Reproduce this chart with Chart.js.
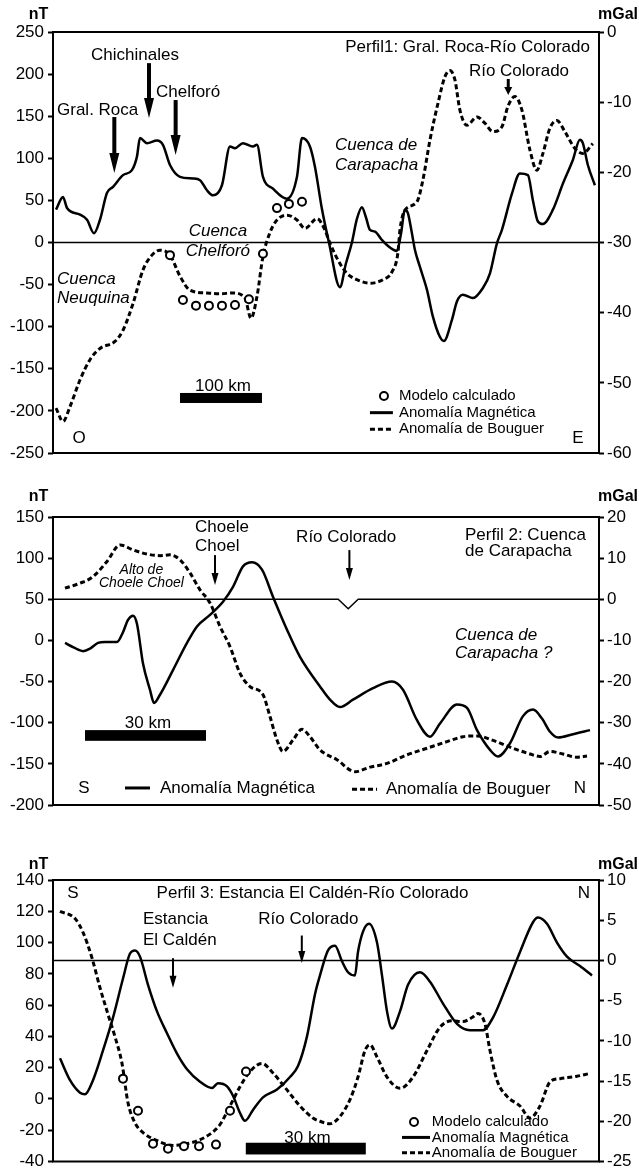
<!DOCTYPE html>
<html>
<head>
<meta charset="utf-8">
<script src="https://cdn.jsdelivr.net/npm/chart.js@4.4.1/dist/chart.umd.min.js"></script>
<style>
  html, body { margin: 0; padding: 0; background: #fff; }
  #wrap { position: relative; width: 639px; height: 1174px; overflow: hidden; }
  canvas { position: absolute; left: 0; }
</style>
</head>
<body>
<div id="wrap">
  <canvas id="c1" width="639" height="480" style="top:0px;width:639px;height:480px"></canvas>
  <canvas id="c2" width="639" height="350" style="top:480px;width:639px;height:350px"></canvas>
  <canvas id="c3" width="639" height="344" style="top:830px;width:639px;height:344px"></canvas>
</div>
<script>
// ---- Perfil 1 (distance in km, nT / mGal) ----
const p1MagKm = [3.7, 12.2, 17.1, 32.9, 41.5, 50, 57.3, 65.9, 73.2, 85.4, 96.3, 102.4, 106.1, 114.6, 126.8, 134.1, 142.7, 154.9, 170.7, 179.3, 187.8, 195.1, 206.1, 215.9, 222, 231.7, 243.9, 248.8, 256.1, 268.3, 285.4, 297.6, 303.7, 313.4, 319.5, 328, 336.6, 350, 357.3, 364.6, 370.7, 376.8, 381.7, 386.6, 392.7, 401.2, 407.3, 419.5, 424.4, 429.3, 432.9, 437.8, 441.5, 447.6, 456.1, 463.4, 471.9, 476.8, 486.6, 492.7, 500, 512.2, 524.4, 532.9, 541.5, 547.6, 559.8, 569.5, 579.3, 585.4, 591.5, 597.6, 609.8, 622, 634.1, 642.7, 646.3, 652.4, 661];
const p1MagNt = [39, 54, 41, 33, 27, 11, 27, 59, 66, 80, 86, 102, 124, 118, 121, 116, 92, 78, 76, 74, 62, 56, 68, 114, 112, 118, 114, 116, 78, 64, 52, 78, 124, 114, 90, 40, 0, -53, -25, 0, 28, 42, 30, 15, 13, 3, -3, -10, 10, 39, 35, 11, -9, -29, -56, -88, -112, -117, -92, -70, -62, -66, -54, -37, -1, 15, 58, 82, 80, 50, 25, 22, 39, 70, 98, 122, 118, 92, 68];
const p1BouKm = [3.7, 12.2, 20.7, 32.9, 45.1, 57.3, 75.6, 85.4, 97.6, 109.8, 120.7, 130.5, 142.7, 154.9, 167.1, 187.8, 203.7, 219.5, 234.1, 241.5, 248.8, 256.1, 264.6, 273.2, 285.4, 297.6, 307.3, 322, 331.7, 337.8, 350, 358.5, 370.7, 386.6, 402.4, 413.4, 420.7, 423.2, 429.3, 443.9, 451.2, 459.8, 469.5, 478, 484.1, 490.2, 496.3, 504.9, 517.1, 526.8, 536.6, 547.6, 554.9, 563.4, 571.9, 581.7, 590.2, 597.6, 606.1, 614.6, 624.4, 636.6, 646.3, 658.5];
const p1BouMgal = [-53.6, -55.5, -53.4, -49.6, -46.7, -45.1, -44.1, -42.5, -38.7, -33.9, -31.8, -31.1, -31.8, -34.8, -36.8, -37.2, -37.3, -37.2, -37.9, -40.8, -37.7, -32, -28.6, -26.8, -26.1, -26.8, -28, -26.6, -28.2, -30.1, -33, -34.4, -35.3, -35.8, -35.3, -34.2, -31.5, -28.2, -25.4, -24.2, -21.1, -15.4, -10.2, -6.4, -5.5, -6.8, -11.1, -13.3, -12.1, -13, -14.2, -13.5, -10.6, -9.2, -11.1, -16.8, -19.7, -17.3, -13.7, -12.6, -14.2, -16.6, -17.3, -15.9];
const p1ModKm = [142.7, 158.5, 174.4, 190.2, 206.1, 222, 239, 256.1, 273.2, 287.8, 303.7];
const p1ModMgal = [-31.8, -38.2, -39, -39, -39, -38.9, -38.1, -31.6, -25.1, -24.5, -24.2];
const p1TicksNt = [250, 200, 150, 100, 50, 0, -50, -100, -150, -200, -250];
const p1TicksMgal = [0, -10, -20, -30, -40, -50, -60];

// ---- Perfil 2 ----
const p2MagKm = [3, 5, 7.5, 9.25, 11.25, 13, 16, 17.5, 18.75, 20, 21, 22.5, 24.25, 25.25, 26.75, 30, 33.5, 36, 39.25, 42.5, 45, 47.5, 49.75, 52.25, 55, 58.5, 61.75, 66.75, 69.25, 71.75, 75, 80, 84.75, 87.5, 91, 94.25, 96.75, 101, 103.5, 106, 109.25, 111.25, 114.25, 117.5, 120, 122.25, 124.25, 126.25, 130, 134.25];
const p2MagNt = [-3, -8, -13, -10, -3, -2, -2, 10, 25, 30, 20, -28, -60, -76, -66, -36, -3, 17, 31, 47, 65, 90, 95, 86, 53, 13, -20, -56, -72, -81, -72, -58, -50, -60, -97, -117, -101, -78, -82, -109, -133, -141, -125, -92, -84, -95, -111, -118, -114, -109];
const p2BouKm = [3, 6.75, 10, 13.5, 16.75, 20, 23.5, 26.75, 29.25, 31.75, 34.25, 36.75, 39.25, 41.75, 44.25, 46.75, 49.25, 52.5, 54.25, 56, 57.5, 60, 62.25, 64.25, 66.75, 71, 75.5, 79.25, 83.5, 88.5, 93.5, 98.5, 102.5, 106, 110, 115, 119.25, 121.75, 124.25, 127.5, 131, 133.5];
const p2BouMgal = [2.7, 3.9, 5.5, 9.2, 13.2, 12, 11, 10.6, 10.8, 9.6, 6.4, 2.3, -0.9, -6.6, -11.5, -18, -21.2, -23.2, -28.5, -34.2, -37, -34.2, -31.6, -33.4, -36.6, -39, -41.9, -40.8, -39.9, -37.8, -36.2, -34.6, -33.4, -33.2, -34.3, -36.2, -37.6, -38.2, -37, -37.6, -38.4, -38.1];
const p2ZeroKm = [0, 71.3, 73.8, 76.3, 136.5];
const p2ZeroMgal = [0, 0, -2.3, 0, 0];
const p2TicksNt = [150, 100, 50, 0, -50, -100, -150, -200];
const p2TicksMgal = [20, 10, 0, -10, -20, -30, -40, -50];

// ---- Perfil 3 ----
const p3MagKm = [1.75, 4.25, 6.75, 8, 10, 12.5, 15, 17.5, 19.25, 20.5, 21.75, 23.75, 26, 28.5, 31, 33.5, 36.75, 39.75, 41.25, 43.5, 45, 46.75, 48, 50, 52.5, 56, 59.25, 61.25, 63.5, 65.5, 66.75, 68.75, 70.5, 72.25, 73.75, 75.5, 76.25, 77.5, 79, 81, 82.25, 83.5, 84.75, 86.75, 88.75, 91.75, 94.25, 97.5, 101, 104.25, 107.5, 110, 113.5, 116.75, 120, 121.25, 123.5, 126, 128.5, 131.75, 134.75];
const p3MagNt = [26, 12, 4, 3, 12, 31, 52, 77, 93, 95, 91, 73, 56, 42, 29, 19, 11, 7, 10, 8, 2, -9, -14, -7, 1, 6, 14, 21, 40, 67, 79, 95, 98, 88, 81, 79, 94, 107, 112, 100, 79, 56, 45, 56, 73, 81, 75, 61, 48, 44, 44, 52, 73, 94, 113, 116, 112, 100, 91, 85, 79];
const p3BouKm = [1.75, 5.5, 7.5, 9.75, 11.75, 13.75, 15.5, 17.25, 18.75, 20.5, 22.5, 26, 30, 35, 39.25, 41.75, 44.25, 46.75, 49.25, 52.25, 55, 58.5, 61.75, 65, 66.75, 69.25, 71.75, 74.25, 76.25, 78, 79.25, 81, 83.5, 86.75, 90, 93.5, 96.75, 99.75, 102.5, 104.75, 106.25, 108, 109.25, 111, 113.5, 116.75, 119.25, 121.75, 124.25, 126.75, 131, 133.75];
const p3BouMgal = [6.1, 5.2, 3.5, 0.3, -3.4, -6.7, -9.5, -12.8, -17.7, -20.2, -21.4, -22.4, -23, -22.6, -21.6, -20.4, -18.1, -15.7, -13.8, -12.8, -14, -16.1, -18.1, -19.6, -20, -20.3, -19.4, -17.3, -14.5, -11.2, -10.5, -12, -14.5, -15.9, -14.5, -11.2, -8.3, -7.5, -7.6, -7.1, -6.6, -7.9, -11.2, -14.9, -16.9, -18.1, -19.6, -18.1, -15.1, -14.7, -14.4, -14.1];
const p3ModKm = [17.5, 21.25, 25, 28.75, 32.75, 36.5, 40.75, 44.25, 48.25];
const p3ModMgal = [-14.7, -18.7, -22.8, -23.4, -23.1, -23.1, -22.9, -18.7, -13.8];
const p3TicksNt = [140, 120, 100, 80, 60, 40, 20, 0, -20, -40];
const p3TicksMgal = [10, 5, 0, -5, -10, -15, -20, -25];

const FONT = '"Liberation Sans", Arial, sans-serif';
Chart.defaults.font.family = FONT;
Chart.defaults.color = '#000';

const pts = (xs, ys) => xs.map((x, i) => ({ x: x, y: ys[i] }));

function magSet(xs, ys) {
  return { data: pts(xs, ys), yAxisID: 'y', borderColor: '#000', borderWidth: 2.5,
    pointRadius: 0, fill: false, cubicInterpolationMode: 'monotone' };
}
function bouSet(xs, ys) {
  return { data: pts(xs, ys), yAxisID: 'y1', borderColor: '#000', borderWidth: 3,
    borderDash: [5, 3], pointRadius: 0, fill: false, cubicInterpolationMode: 'monotone' };
}
function modSet(xs, ys) {
  return { data: pts(xs, ys), yAxisID: 'y1', showLine: false, pointRadius: 4,
    pointBorderWidth: 2, pointBorderColor: '#000', pointBackgroundColor: '#fff' };
}
function zeroSet(xs, ys, axis) {
  return { data: pts(xs, ys), yAxisID: axis, borderColor: '#000', borderWidth: 1.5,
    pointRadius: 0, tension: 0, fill: false };
}

// labels, arrows, scale bars and legend; positions in km / left-axis units
const panels = {
  c1: {
    titleDy: 17,
    texts: [
      { t: 'Perfil1: Gral. Roca-Río Colorado', x: 654.9, y: 231.8, a: 'right' },
      { t: 'Chichinales', x: 100, y: 222.7, a: 'center' },
      { t: 'Chelforó', x: 125.6, y: 178, a: 'left' },
      { t: 'Gral. Roca', x: 4.9, y: 156.5, a: 'left' },
      { t: 'Río Colorado', x: 507.3, y: 202.9, a: 'left' },
      { t: 'Cuenca de', x: 343.9, y: 115, a: 'left', it: true },
      { t: 'Carapacha', x: 343.9, y: 92, a: 'left', it: true },
      { t: 'Cuenca', x: 201.2, y: 12.8, a: 'center', it: true },
      { t: 'Chelforó', x: 201.2, y: -10.9, a: 'center', it: true },
      { t: 'Cuenca', x: 4.9, y: -43.3, a: 'left', it: true },
      { t: 'Neuquina', x: 4.9, y: -66.3, a: 'left', it: true },
      { t: '100 km', x: 207.3, y: -171.3, a: 'center' },
      { t: 'O', x: 31.7, y: -232.2, a: 'center' },
      { t: 'E', x: 640.2, y: -232.2, a: 'center' },
      { t: 'Modelo calculado', x: 422, y: -182.3, a: 'left', s: 15 },
      { t: 'Anomalía Magnética', x: 422, y: -202.1, a: 'left', s: 15 },
      { t: 'Anomalía de Bouguer', x: 422, y: -221.9, a: 'left', s: 15 }
    ],
    arrows: [
      { x: 117.1, y0: 213, y1: 147.9, w: 4, hw: 5, hl: 20 },
      { x: 149.6, y0: 169.2, y1: 103.9, w: 4, hw: 5, hl: 20 },
      { x: 74.8, y0: 149, y1: 82.5, w: 4, hw: 5, hl: 20 },
      { x: 555.3, y0: 194.2, y1: 175.2, w: 3, hw: 4, hl: 8 }
    ],
    bars: [{ x0: 154.9, x1: 254.9, y0: -178.7, y1: -190.6 }],
    legend: { cx: 403.7, cy: -182.3, lx0: 386.6, lx1: 414.6, ly: -202.1, dy: -221.9 }
  },
  c2: {
    titleDy: 20,
    texts: [
      { t: 'Choele', x: 35.5, y: 137.8, a: 'left' },
      { t: 'Choel', x: 35.5, y: 113.8, a: 'left' },
      { t: 'Río Colorado', x: 73.3, y: 125.6, a: 'center' },
      { t: 'Perfil 2: Cuenca', x: 103, y: 128, a: 'left' },
      { t: 'de Carapacha', x: 103, y: 108.6, a: 'left' },
      { t: 'Cuenca de', x: 100.5, y: 6.4, a: 'left', it: true },
      { t: 'Carapacha ?', x: 100.5, y: -15.8, a: 'left', it: true },
      { t: 'Alto de', x: 22.1, y: 85.5, a: 'center', it: true, s: 14 },
      { t: 'Choele Choel', x: 22.1, y: 69.3, a: 'center', it: true, s: 14 },
      { t: '30 km', x: 23.75, y: -100.6, a: 'center' },
      { t: 'S', x: 7.75, y: -179.3, a: 'center' },
      { t: 'Anomalía Magnética', x: 26.75, y: -179.3, a: 'left' },
      { t: 'Anomalía de Bouguer', x: 83.25, y: -180.9, a: 'left' },
      { t: 'N', x: 131.75, y: -180, a: 'center' }
    ],
    arrows: [
      { x: 40.5, y0: 103.7, y1: 67.3, w: 2, hw: 3.5, hl: 12 },
      { x: 74.1, y0: 109.8, y1: 73.3, w: 2, hw: 3.5, hl: 12 }
    ],
    bars: [{ x0: 8, x1: 38.25, y0: -109, y1: -122 }],
    legend: { lines: [{ x0: 18, x1: 24.25, y: -179.3 }], dashes: [{ x0: 74.75, x1: 81, y: -180.9 }] }
  },
  c3: {
    titleDy: 15,
    texts: [
      { t: 'S', x: 5, y: 131.7, a: 'center' },
      { t: 'Perfil 3: Estancia El Caldén-Río Colorado', x: 25.9, y: 131.7, a: 'left' },
      { t: 'N', x: 132.75, y: 131.7, a: 'center' },
      { t: 'Estancia', x: 22.5, y: 114.8, a: 'left' },
      { t: 'El Caldén', x: 22.5, y: 101.4, a: 'left' },
      { t: 'Río Colorado', x: 51.3, y: 114.6, a: 'left' },
      { t: '30 km', x: 63.6, y: -25.4, a: 'center' },
      { t: 'Modelo calculado', x: 94.7, y: -14.7, a: 'left', s: 15 },
      { t: 'Anomalía Magnética', x: 94.7, y: -24.6, a: 'left', s: 15 },
      { t: 'Anomalía de Bouguer', x: 94.7, y: -34.4, a: 'left', s: 15 }
    ],
    arrows: [
      { x: 30, y0: 90, y1: 71.1, w: 2, hw: 3.5, hl: 12 },
      { x: 62.2, y0: 104.5, y1: 86.9, w: 2, hw: 3.5, hl: 12 }
    ],
    bars: [{ x0: 48.2, x1: 78.2, y0: -28, y1: -35.5 }],
    legend: { cx: 90.25, cy: -14.7, lx0: 87.25, lx1: 94.25, ly: -24.6, dy: -34.4 }
  }
};

const overlay = {
  id: 'overlay',
  afterDatasetsDraw(chart) {
    const p = panels[chart.canvas.id];
    const ctx = chart.ctx, a = chart.chartArea;
    const X = v => chart.scales.x.getPixelForValue(v);
    const Y = v => chart.scales.y.getPixelForValue(v);
    ctx.save();
    ctx.strokeStyle = '#000';
    ctx.fillStyle = '#000';
    ctx.lineWidth = 2;
    ctx.strokeRect(a.left, a.top, a.right - a.left, a.bottom - a.top);

    ctx.textBaseline = 'middle';
    ctx.textAlign = 'center';
    ctx.font = 'bold 16px ' + FONT;
    ctx.fillText('nT', a.left - 14.5, a.top - p.titleDy);
    ctx.textAlign = 'right';
    ctx.fillText('mGal', 638, a.top - p.titleDy);

    p.texts.forEach(o => {
      ctx.font = (o.it ? 'italic ' : '') + (o.s || 17) + 'px ' + FONT;
      ctx.textAlign = o.a;
      ctx.fillText(o.t, X(o.x), Y(o.y));
    });

    p.arrows.forEach(o => {
      const x = X(o.x), y0 = Y(o.y0), y1 = Y(o.y1);
      ctx.fillRect(x - o.w / 2, y0, o.w, y1 - y0 - o.hl + 1);
      ctx.beginPath();
      ctx.moveTo(x - o.hw, y1 - o.hl);
      ctx.lineTo(x + o.hw, y1 - o.hl);
      ctx.lineTo(x, y1);
      ctx.closePath();
      ctx.fill();
    });

    p.bars.forEach(o => {
      ctx.fillRect(X(o.x0), Y(o.y0), X(o.x1) - X(o.x0), Y(o.y1) - Y(o.y0));
    });

    const L = p.legend;
    const lines = L.lines || [{ x0: L.lx0, x1: L.lx1, y: L.ly }];
    const dashes = L.dashes || [{ x0: L.lx0, x1: L.lx1, y: L.dy }];
    ctx.lineWidth = 3;
    lines.forEach(o => {
      ctx.setLineDash([]);
      ctx.beginPath(); ctx.moveTo(X(o.x0), Y(o.y)); ctx.lineTo(X(o.x1), Y(o.y)); ctx.stroke();
    });
    dashes.forEach(o => {
      ctx.setLineDash([5, 3]);
      ctx.beginPath(); ctx.moveTo(X(o.x0), Y(o.y)); ctx.lineTo(X(o.x1), Y(o.y)); ctx.stroke();
    });
    ctx.setLineDash([]);
    if (L.cx !== undefined) {
      ctx.lineWidth = 2;
      ctx.beginPath(); ctx.arc(X(L.cx), Y(L.cy), 4, 0, Math.PI * 2); ctx.stroke();
    }
    ctx.restore();
  }
};

function axis(pos, min, max, ticks, width) {
  return {
    type: 'linear', position: pos, min: min, max: max,
    afterBuildTicks: s => { s.ticks = ticks.map(v => ({ value: v })); },
    afterFit: s => { s.width = width; },
    grid: { drawOnChartArea: false, tickLength: 5, tickWidth: 2, color: '#000' },
    border: { display: false },
    ticks: { color: '#000', padding: pos === 'left' ? 4 : 3, font: { size: 17, lineHeight: 1 } }
  };
}

function makeChart(id, datasets, xMax, padTop, padBottom, left, right) {
  return new Chart(document.getElementById(id), {
    type: 'line',
    data: { datasets: datasets },
    options: {
      responsive: false,
      animation: false,
      layout: { padding: { top: padTop, bottom: padBottom, left: 0, right: 0 } },
      plugins: { legend: { display: false }, tooltip: { enabled: false } },
      scales: {
        x: { type: 'linear', min: 0, max: xMax, display: false },
        y: axis('left', left[0], left[1], left[2], 53),
        y1: axis('right', right[0], right[1], right[2], 40)
      }
    },
    plugins: [overlay]
  });
}

makeChart('c1', [
  modSet(p1ModKm, p1ModMgal),
  magSet(p1MagKm, p1MagNt),
  bouSet(p1BouKm, p1BouMgal),
  zeroSet([0, 666], [0, 0], 'y')
], 666, 32, 27, [-250, 250, p1TicksNt], [-60, 0, p1TicksMgal]);

makeChart('c2', [
  magSet(p2MagKm, p2MagNt),
  bouSet(p2BouKm, p2BouMgal),
  zeroSet(p2ZeroKm, p2ZeroMgal, 'y1')
], 136.5, 37, 25, [-200, 150, p2TicksNt], [-50, 20, p2TicksMgal]);

makeChart('c3', [
  modSet(p3ModKm, p3ModMgal),
  magSet(p3MagKm, p3MagNt),
  bouSet(p3BouKm, p3BouMgal),
  zeroSet([0, 136.5], [0, 0], 'y1')
], 136.5, 50, 8, [-40, 140, p3TicksNt], [-25, 10, p3TicksMgal]);
</script>
</body>
</html>
